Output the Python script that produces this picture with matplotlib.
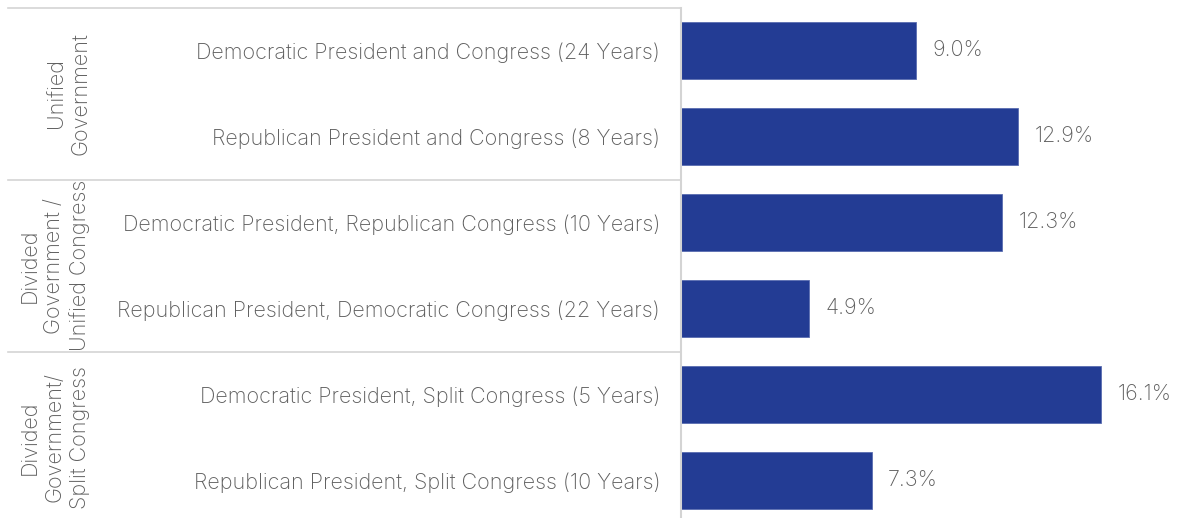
import matplotlib
matplotlib.use("Agg")
import matplotlib.pyplot as plt
import matplotlib.transforms as mtransforms

plt.rcParams["font.family"] = ["Inter", "DejaVu Sans"]

categories = [
    "Democratic President and Congress (24 Years)",
    "Republican President and Congress (8 Years)",
    "Democratic President, Republican Congress (10 Years)",
    "Republican President, Democratic Congress (22 Years)",
    "Democratic President, Split Congress (5 Years)",
    "Republican President, Split Congress (10 Years)",
]
returns = [9.0, 12.9, 12.3, 4.9, 16.1, 7.3]
value_labels = ["9.0%", "12.9%", "12.3%", "4.9%", "16.1%", "7.3%"]
groups = [
    "Unified\nGovernment",
    "Divided\nGovernment /\nUnified Congress",
    "Divided\nGovernment/\nSplit Congress",
]

BAR_COLOR = "#233c94"
TEXT_COLOR = "#5e5e5e"
LINE_COLOR = "#d4d4d4"
FS = 15.5

W, H = 1181, 518
fig = plt.figure(figsize=(W / 100, H / 100), dpi=100)
ax_left = 681 / W
ax_top = (H - 7.5) / H
ax_h = 516 / H
ax = fig.add_axes([ax_left, ax_top - ax_h, 1 - ax_left, ax_h])

ys = list(range(len(categories)))
ax.barh(ys, returns, height=0.66, color=BAR_COLOR, edgecolor="#5a6db0", linewidth=0.6)
ax.set_ylim(len(categories) - 0.5, -0.5)
ax.set_xlim(0, (W - 681) / 26.1)

ax.set_yticks(ys)
ax.set_yticklabels(categories, fontsize=FS, color=TEXT_COLOR, fontweight="light")
ax.tick_params(axis="y", length=0, pad=15)
ax.set_xticks([])

for spine in ["top", "right", "bottom"]:
    ax.spines[spine].set_visible(False)
ax.spines["left"].set_color(LINE_COLOR)
ax.spines["left"].set_linewidth(1.5)

for y, v, lab in zip(ys, returns, value_labels):
    ax.annotate(lab, (v, y), xytext=(12, 0), textcoords="offset points",
                va="center", ha="left", fontsize=FS, color=TEXT_COLOR,
                fontweight="light")

# group separators and labels
trans = mtransforms.blended_transform_factory(fig.transFigure, ax.transData)
for b in [-0.5, 1.5, 3.5]:
    ax.plot([8 / W, ax_left], [b, b], transform=trans, color=LINE_COLOR,
            linewidth=1.2, clip_on=False)

group_x = [68 / W, 55 / W, 55 / W]
for i, (g, gx) in enumerate(zip(groups, group_x)):
    ax.text(gx, 2 * i + 0.5, g, transform=trans, rotation=90, ha="center",
            va="center", multialignment="center", fontsize=FS,
            color=TEXT_COLOR, fontweight="light", linespacing=1.3)

fig.savefig("out.png", dpi=100)
